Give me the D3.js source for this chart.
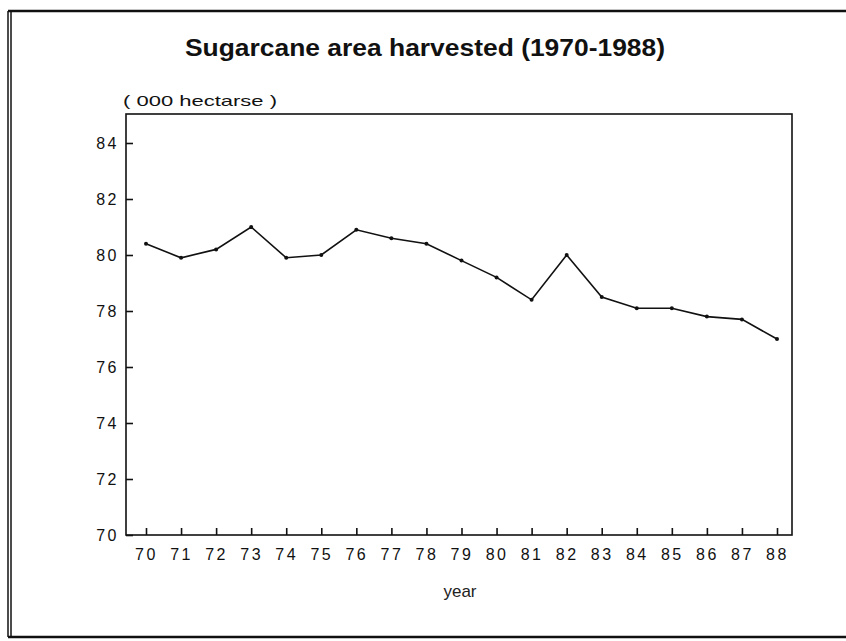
<!DOCTYPE html>
<html>
<head>
<meta charset="utf-8">
<script src="https://cdn.jsdelivr.net/npm/d3@7"></script>
<style>
  body { margin: 0; background: #fff; }
  svg { display: block; font-family: "Liberation Sans", Arial, sans-serif; }
  .axis path, .axis line { stroke: #111; stroke-width: 1.6; }
  .axis text { font-size: 16px; fill: #111; letter-spacing: 2.5px; }
</style>
</head>
<body>
<svg width="846" height="641"></svg>
<script>
const years = ["70","71","72","73","74","75","76","77","78","79","80","81","82","83","84","85","86","87","88"];
const area = [80.4, 79.9, 80.2, 81.0, 79.9, 80.0, 80.9, 80.6, 80.4, 79.8, 79.2, 78.4, 80.0, 78.5, 78.1, 78.1, 77.8, 77.7, 77.0];
const yTicks = [70, 72, 74, 76, 78, 80, 82, 84];
const titleText = "Sugarcane area harvested (1970-1988)";
const unitText = "( 000 hectarse )";
const xTitle = "year";

const svg = d3.select("svg");

// plot box edges
const box = { left: 126, right: 792, top: 114, bottom: 535 };

const x = d3.scalePoint().domain(years).range([146, 777]);
const y = d3.scaleLinear().domain([70, 85]).range([box.bottom, 115]);

// outer frame (scanned double line on the left)
svg.append("line").attr("x1", 8).attr("x2", 846).attr("y1", 11).attr("y2", 11)
    .attr("stroke", "#111").attr("stroke-width", 2.5);
svg.append("line").attr("x1", 8).attr("x2", 846).attr("y1", 637).attr("y2", 637)
    .attr("stroke", "#111").attr("stroke-width", 2.5);
svg.append("line").attr("x1", 8).attr("x2", 8).attr("y1", 11).attr("y2", 637)
    .attr("stroke", "#111").attr("stroke-width", 1.5);
svg.append("line").attr("x1", 11).attr("x2", 11).attr("y1", 11).attr("y2", 637)
    .attr("stroke", "#111").attr("stroke-width", 1.5);

// title
svg.append("text")
    .attr("x", 185).attr("y", 56)
    .attr("textLength", 480).attr("lengthAdjust", "spacingAndGlyphs")
    .attr("font-size", 23).attr("font-weight", "bold")
    .attr("fill", "#111")
    .text(titleText);

svg.append("text")
    .attr("x", 123).attr("y", 106)
    .attr("textLength", 154).attr("lengthAdjust", "spacingAndGlyphs")
    .attr("font-size", 15).attr("fill", "#111")
    .text(unitText);

// box
svg.append("rect")
    .attr("x", box.left).attr("y", box.top)
    .attr("width", box.right - box.left).attr("height", box.bottom - box.top)
    .attr("fill", "none").attr("stroke", "#111").attr("stroke-width", 1.6);

// axes, ticks pointing inward
svg.append("g").attr("class", "axis")
    .attr("transform", `translate(${box.left},0)`)
    .call(d3.axisLeft(y).tickValues(yTicks).tickSizeInner(-7).tickSizeOuter(0).tickPadding(7))
    .call(g => g.select(".domain").remove());

svg.append("g").attr("class", "axis")
    .attr("transform", `translate(0,${box.bottom})`)
    .call(d3.axisBottom(x).tickSizeInner(-7).tickSizeOuter(0).tickPadding(14))
    .call(g => g.select(".domain").remove());

svg.append("text")
    .attr("x", 460).attr("y", 597)
    .attr("text-anchor", "middle")
    .attr("font-size", 17).attr("fill", "#222")
    .text(xTitle);

// series
const line = d3.line()
    .x((d, i) => x(years[i]))
    .y(d => y(d));

svg.append("path")
    .datum(area)
    .attr("fill", "none")
    .attr("stroke", "#111")
    .attr("stroke-width", 1.6)
    .attr("d", line);

svg.selectAll(".dot")
    .data(area)
    .enter().append("circle")
    .attr("class", "dot")
    .attr("cx", (d, i) => x(years[i]))
    .attr("cy", d => y(d))
    .attr("r", 2)
    .attr("fill", "#111");
</script>
</body>
</html>
